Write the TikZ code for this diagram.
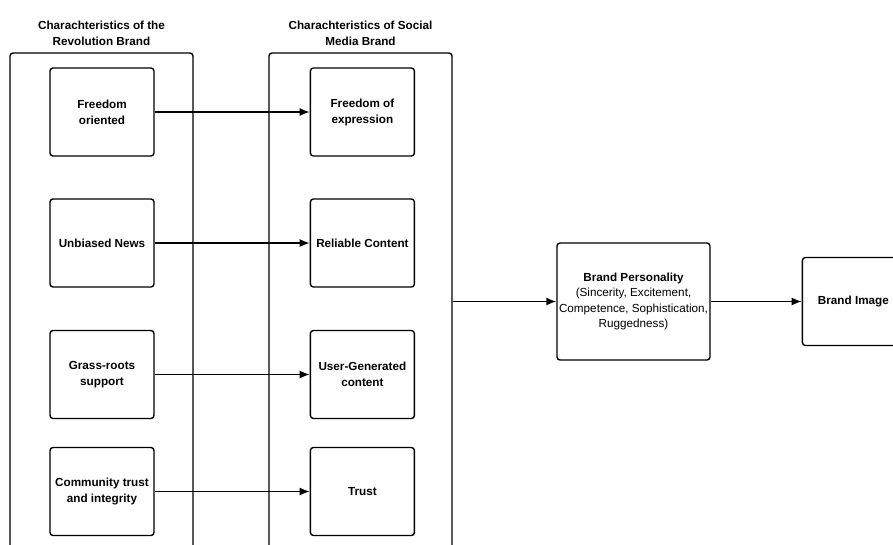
\documentclass[tikz,border=0pt]{standalone}
\usepackage{fontspec}
\setmainfont{Liberation Sans}
\usetikzlibrary{arrows.meta, positioning}

\begin{document}
\begin{tikzpicture}[
      x=1pt,
      y=-1pt,
      node distance=155pt,
      every node/.style={
          font=\fontsize{11.7}{15.5}\selectfont
        },
      column/.style={
          rectangle,
          draw,
          rounded corners=3pt,
          line width=1.4pt,
          minimum width=183pt,
          minimum height=517pt
        },
      heading/.style={
          align=center,
          font=\fontsize{11.7}{16}\selectfont\bfseries
        },
      trait/.style={
          rectangle,
          draw,
          rounded corners=3pt,
          line width=1.4pt,
          align=center,
          inner sep=1pt,
          minimum width=104pt,
          minimum height=88pt,
          font=\fontsize{11.7}{16}\selectfont\bfseries
        },
      result/.style={
          rectangle,
          draw,
          rounded corners=3pt,
          line width=1.4pt,
          align=center,
          inner sep=1pt
        },
      arrow/.style={
          -{Latex[length=10pt,width=8pt]},
          line width=1.5pt
        }
    ]

    \clip (0,0) rectangle (893,544);

    % Columns
    \node[column] (colA) at (101.5,311.5) {};
    \node[column] (colB) at (360.5,311.5) {};
    \node[heading, above=3pt of colA.north] (headA) {Charachteristics of the\\Revolution Brand};
    \node[heading, above=3pt of colB.north] (headB) {Charachteristics of Social\\Media Brand};

    % Nodes
    \node[trait] (freeA) at (102,112) {Freedom\\oriented};
    \node[trait] (newsA) at (102,243) {Unbiased News};
    \node[trait] (grassA) at (102,374.5) {Grass-roots\\support};
    \node[trait] (trustA) at (102,491.5) {Community trust\\and integrity};
    \node[trait, right=of freeA] (freeB) {Freedom of\\expression};
    \node[trait, right=of newsA] (newsB) {Reliable Content};
    \node[trait, right=of grassA] (grassB) {User-Generated\\content};
    \node[trait, right=of trustA] (trustB) {Trust};
    \node[result, minimum width=153pt, minimum height=117pt] (pers) at (633.5,301.5)
      {\textbf{Brand Personality}\\(Sincerity, Excitement,\\Competence, Sophistication,\\Ruggedness)};
    \node[result, right=91pt of pers, minimum width=102pt, minimum height=88pt,
      font=\fontsize{11.7}{15.5}\selectfont\bfseries] (image) {Brand Image};

    % Arrows
    \draw[arrow] (freeA) -- (freeB);
    \draw[arrow] (newsA) -- (newsB);
    \draw[arrow] (grassA) -- (grassB);
    \draw[arrow] (trustA) -- (trustB);
    \draw[arrow] (colB.east |- pers.west) -- (pers);
    \draw[arrow] (pers) -- (image);

  \end{tikzpicture}
\end{document}
